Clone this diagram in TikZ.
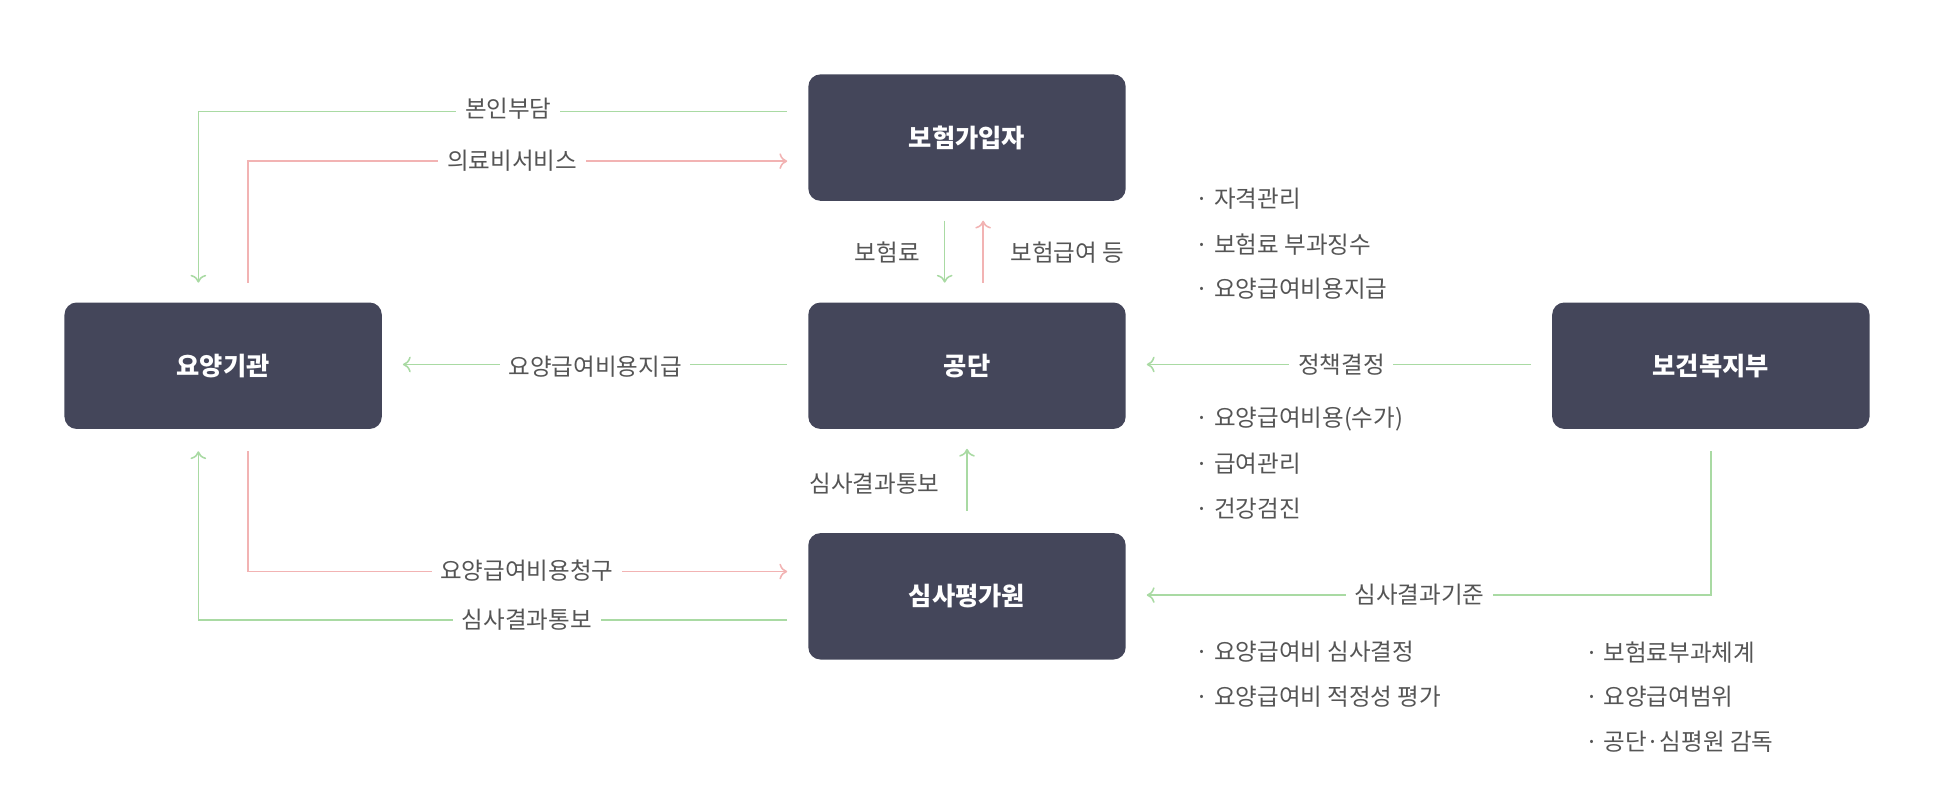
\documentclass[tikz,border=0pt]{standalone}
\usepackage{fontspec}
\newfontfamily\kr{Noto Sans CJK KR}
\usetikzlibrary{arrows.meta}
\definecolor{boxc}{HTML}{44465A}
\definecolor{gr}{HTML}{A9DAA3}
\definecolor{pk}{HTML}{F2B3B3}
\definecolor{tx}{HTML}{555555}
\tikzset{
 box/.style={fill=boxc,rounded corners=14pt,minimum width=12.8cm,minimum height=5.1cm,text=white,font=\kr\bfseries\fontsize{29}{32}\selectfont},
 lab/.style={fill=white,text=tx,font=\kr\fontsize{27}{31}\selectfont,inner xsep=10pt},
 bul/.style={anchor=west,text=tx,font=\kr\fontsize{27}{31}\selectfont},
 g/.style={draw=gr,line width=1.8pt,-{To[length=9pt,width=18pt]}},
 p/.style={draw=pk,line width=1.8pt,-{To[length=9pt,width=18pt]}},
}
\begin{document}
\begin{tikzpicture}[x=0.05cm,y=-0.05cm]
\useasboundingbox (0,0) rectangle (1560,644);
\node[box] (ins) at (780,111) {보험가입자};
\node[box] (nhis) at (780,295) {공단};
\node[box] (hira) at (780,481) {심사평가원};
\node[box] (hosp) at (180,295) {요양기관};
\node[box] (mw) at (1380,295) {보건복지부};
\draw[g] (635,90) -- (160,90) -- (160,228);
\node[lab] at (410,88) {본인부담};
\draw[p] (200,228) -- (200,130) -- (635,130);
\node[lab] at (413,130) {의료비서비스};
\draw[g] (762,178) -- (762,228);
\node[lab,anchor=east,inner xsep=0pt] at (742,204) {보험료};
\draw[p] (793,228) -- (793,178);
\node[lab,anchor=west,inner xsep=0pt] at (815,204) {보험급여 등};
\draw[g] (635,294) -- (325,294);
\node[lab] at (480,296) {요양급여비용지급};
\draw[g] (1235,294) -- (925,294);
\node[lab] at (1082,294) {정책결정};
\draw[g] (780,412) -- (780,362);
\node[lab,anchor=east,inner xsep=0pt] at (758,390) {심사결과통보};
\draw[p] (200,364) -- (200,461) -- (635,461);
\node[lab] at (425,460) {요양급여비용청구};
\draw[g] (635,500) -- (160,500) -- (160,364);
\node[lab] at (425,500) {심사결과통보};
\draw[g] (1380,364) -- (1380,480) -- (925,480);
\node[lab] at (1145,480) {심사결과기준};
\foreach \y/\t in {160/자격관리,197/보험료 부과징수,233/요양급여비용지급,338/요양급여비용(수가),374/급여관리,410/건강검진,526/요양급여비 심사결정,562/요양급여비 적정성 평가}
  \node[bul] at (962,\y) {·\hspace{6pt}\t};
\foreach \y/\t in {526/보험료부과체계,562/요양급여범위,598/공단·심평원 감독}
  \node[bul] at (1276,\y) {·\hspace{6pt}\t};
\end{tikzpicture}
\end{document}
